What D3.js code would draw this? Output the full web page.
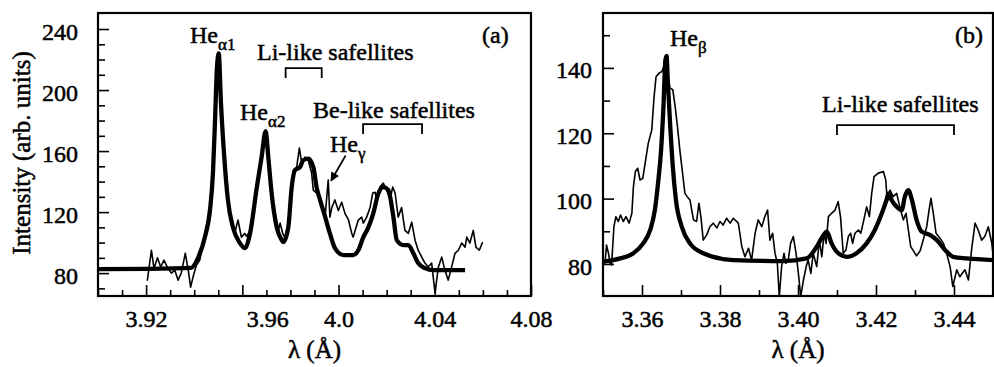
<!DOCTYPE html>
<html>
<head>
  <meta charset="utf-8">
  <title>He-like Ar spectra</title>
  <script src="https://d3js.org/d3.v7.min.js"></script>
  <style>
    body { margin: 0; background: #fff; }
    text { font-family: "Liberation Serif", "Times New Roman", serif; fill: #000; }
  </style>
</head>
<body>
<div id="chart"></div>

<script>
  // ---- panel (a): He-alpha region, [wavelength (A), intensity] ----
  const fitA = [
    [3.9000, 82.6], [3.9200, 82.8], [3.9387, 83.5], [3.9416, 90], [3.9445, 104],
    [3.9466, 122], [3.9478, 146], [3.9486, 178], [3.9495, 216], [3.9502, 224],
    [3.9511, 192], [3.9524, 158], [3.9540, 128], [3.9561, 110], [3.9590, 99.7],
    [3.9611, 96.4], [3.9632, 106], [3.9660, 136], [3.9680, 156], [3.9697, 173],
    [3.9708, 156], [3.9722, 132], [3.9743, 110], [3.9764, 101.6], [3.9770, 100.3],
    [3.9791, 110], [3.9805, 136], [3.9819, 147.5], [3.9840, 149.5], [3.9853, 154],
    [3.9874, 155], [3.9895, 149.5], [3.9909, 136], [3.9923, 128], [3.9944, 117],
    [3.9964, 106], [3.9985, 96.4], [4.0020, 91.8], [4.0061, 91.8], [4.0082, 95],
    [4.0103, 103.6], [4.0124, 110], [4.0144, 119], [4.0165, 132], [4.0186, 136.4],
    [4.0207, 134.4], [4.0228, 116.7], [4.0242, 101.6], [4.0269, 98.4], [4.0290, 98.4],
    [4.0311, 93], [4.0331, 86.6], [4.0359, 83.3], [4.0394, 82], [4.0526, 82]
  ];

  const measA = [
    [3.9205, 75], [3.9222, 95], [3.9233, 83], [3.9247, 90], [3.9261, 84],
    [3.9274, 88.5], [3.9291, 83], [3.9305, 80], [3.9319, 82], [3.9333, 75.4],
    [3.9346, 80], [3.9363, 93], [3.9377, 80], [3.9385, 70.8], [3.9395, 77.4],
    [3.9409, 85.2], [3.9423, 88.5], [3.9445, 106], [3.9466, 123], [3.9478, 147],
    [3.9486, 180], [3.9495, 218], [3.9502, 224], [3.9511, 196], [3.9524, 162],
    [3.9540, 132], [3.9554, 114.8], [3.9568, 106], [3.9582, 114.8], [3.9596, 103.6],
    [3.9610, 106], [3.9618, 104], [3.9632, 108], [3.9646, 123], [3.9666, 141],
    [3.9680, 158], [3.9697, 172], [3.9708, 158], [3.9722, 128], [3.9736, 119],
    [3.9750, 108], [3.9757, 112.8], [3.9768, 106], [3.9777, 103], [3.9791, 112],
    [3.9805, 138], [3.9812, 147.5], [3.9826, 149.5], [3.9837, 162], [3.9847, 152],
    [3.9861, 156], [3.9874, 154], [3.9888, 145.6], [3.9895, 134.4], [3.9909, 132.5],
    [3.9923, 130], [3.9934, 123], [3.9944, 116.7], [3.9957, 141], [3.9964, 116.7],
    [3.9972, 123], [3.9985, 128], [3.9999, 121], [4.0013, 126.5], [4.0027, 119],
    [4.0041, 115], [4.0055, 106], [4.0061, 103.6], [4.0073, 110], [4.0082, 114.8],
    [4.0096, 116.7], [4.0103, 112.8], [4.0117, 116.7], [4.0131, 123], [4.0142, 132.5],
    [4.0152, 133], [4.0159, 128], [4.0172, 136.4], [4.0186, 139], [4.0200, 134.4],
    [4.0214, 128], [4.0225, 136.4], [4.0235, 132.5], [4.0248, 116.7], [4.0262, 123],
    [4.0276, 108], [4.0290, 106], [4.0304, 113.4], [4.0318, 101.6], [4.0331, 95],
    [4.0346, 90.5], [4.0359, 86.6], [4.0373, 84], [4.0387, 86.6], [4.0401, 67],
    [4.0415, 84], [4.0429, 90.5], [4.0442, 82], [4.0456, 75.4], [4.0470, 84],
    [4.0484, 93], [4.0498, 95], [4.0512, 99.7], [4.0526, 97], [4.0533, 103.6],
    [4.0546, 99.7], [4.0560, 108], [4.0571, 97], [4.0585, 95], [4.0599, 100.3]
  ];

  // ---- panel (b): He-beta region ----
  const fitB = [
    [3.3500, 80.7], [3.3544, 81.7], [3.3578, 83.3], [3.3603, 86.3], [3.3621, 90.4],
    [3.3633, 96.5], [3.3642, 105.7], [3.3649, 114.9], [3.3655, 128.2], [3.3660, 142.4],
    [3.3663, 143.7], [3.3666, 136.3], [3.3672, 123], [3.3679, 109.8], [3.3687, 99.6],
    [3.3702, 91.4], [3.3723, 86.3], [3.3757, 83.3], [3.3834, 81.2], [3.3962, 80.9],
    [3.4022, 81.7], [3.4048, 85.3], [3.4063, 88.4], [3.4074, 89.9], [3.4086, 86.3],
    [3.4103, 83.3], [3.4125, 82.2], [3.4150, 83.3], [3.4176, 86.3], [3.4197, 90.4],
    [3.4215, 95.5], [3.4227, 99.6], [3.4232, 101.6], [3.4240, 99.6], [3.4253, 97.5],
    [3.4266, 96.5], [3.4274, 100.6], [3.4283, 102.6], [3.4292, 99.6], [3.4304, 93.5],
    [3.4317, 89.9], [3.4338, 88.9], [3.4356, 87.3], [3.4377, 84.3], [3.4398, 82.2],
    [3.4433, 81.7], [3.4500, 81.2]
  ];

  const measB = [
    [3.3505, 80.2], [3.3509, 85.8], [3.3514, 83.3], [3.3518, 80.2], [3.3522, 79.7],
    [3.3528, 91.4], [3.3533, 94.5], [3.3539, 93], [3.3545, 95], [3.3552, 93],
    [3.3559, 94.5], [3.3567, 92.5], [3.3574, 95.5], [3.3578, 103.7], [3.3583, 108.3],
    [3.3589, 109.3], [3.3595, 105.7], [3.3602, 106.2], [3.3608, 110.8], [3.3616, 116.9],
    [3.3625, 121], [3.3631, 131.2], [3.3636, 137.3], [3.3644, 138.4], [3.3651, 138.9],
    [3.3656, 140.4], [3.3662, 143], [3.3666, 137.3], [3.3672, 133.8], [3.3679, 133.3],
    [3.3685, 128.2], [3.3691, 122], [3.3697, 114.9], [3.3704, 107.8], [3.3710, 101.6],
    [3.3716, 100.6], [3.3723, 99.6], [3.3732, 93.5], [3.3740, 93], [3.3746, 98.6],
    [3.3751, 94.5], [3.3757, 87.3], [3.3766, 88.9], [3.3774, 91.4], [3.3783, 92.5],
    [3.3792, 91], [3.3800, 93], [3.3808, 91.9], [3.3817, 94], [3.3826, 92.5],
    [3.3834, 94], [3.3847, 92.5], [3.3856, 85.3], [3.3864, 82.2], [3.3873, 84.8],
    [3.3881, 81.2], [3.3890, 89.4], [3.3898, 93.5], [3.3907, 91.4], [3.3915, 94.5],
    [3.3922, 96.5], [3.3928, 87.3], [3.3935, 89.4], [3.3941, 83.3], [3.3947, 80.2],
    [3.3952, 70], [3.3958, 79.2], [3.3964, 83.3], [3.3969, 80.2], [3.3975, 81.2],
    [3.3981, 86.3], [3.3988, 88.4], [3.3995, 83.3], [3.4001, 77.1], [3.4007, 70],
    [3.4014, 75.1], [3.4021, 79.2], [3.4026, 81.2], [3.4033, 77.1], [3.4039, 83.3],
    [3.4048, 79.2], [3.4055, 87.3], [3.4061, 82.2], [3.4067, 89.4], [3.4072, 86.3],
    [3.4078, 94.5], [3.4086, 95.5], [3.4095, 96.5], [3.4103, 99.1], [3.4109, 94.5],
    [3.4116, 83.3], [3.4123, 84.3], [3.4129, 88.4], [3.4135, 89.4], [3.4140, 86.3],
    [3.4146, 89.4], [3.4155, 90.4], [3.4161, 89.4], [3.4167, 92.5], [3.4176, 97.5],
    [3.4183, 94.5], [3.4189, 101.6], [3.4195, 106.7], [3.4206, 107.8], [3.4219, 108.3],
    [3.4225, 105.7], [3.4229, 99], [3.4236, 102.6], [3.4244, 100.6], [3.4253, 101.6],
    [3.4261, 97.5], [3.4270, 93.5], [3.4277, 95.5], [3.4283, 90.4], [3.4289, 85.3],
    [3.4296, 84], [3.4304, 82.5], [3.4313, 84], [3.4321, 87.3], [3.4330, 91.4],
    [3.4336, 96.5], [3.4341, 100.1], [3.4347, 95.5], [3.4354, 89.4], [3.4364, 87.9],
    [3.4373, 86.3], [3.4381, 83.3], [3.4390, 79.2], [3.4397, 73.1], [3.4407, 78.2],
    [3.4415, 76.1], [3.4424, 77.6], [3.4428, 78.2], [3.4437, 75.1], [3.4445, 84.3],
    [3.4454, 92.5], [3.4462, 90.4], [3.4471, 87.3], [3.4479, 88.4], [3.4488, 91.4],
    [3.4497, 86.3], [3.4500, 83]
  ];

  // ---- ticks ----
  const xMajorA = [3.92, 3.96, 4.00, 4.04, 4.08];
  const xLabelsA = ['3.92', '3.96', '4.0', '4.04', '4.08'];
  const xMinorA = [3.90, 3.91, 3.93, 3.94, 3.95, 3.97, 3.98, 3.99, 4.01, 4.02, 4.03, 4.05, 4.06, 4.07];
  const yMajorA = [80, 120, 160, 200, 240];
  const yMinorA = [70, 90, 100, 110, 130, 140, 150, 170, 180, 190, 210, 220, 230];

  const xMajorB = [3.36, 3.38, 3.40, 3.42, 3.44];
  const xLabelsB = ['3.36', '3.38', '3.40', '3.42', '3.44'];
  const xMinorB = [3.35, 3.37, 3.39, 3.41, 3.43, 3.45];
  const yMajorB = [80, 100, 120, 140];
  const yMinorB = [90, 110, 130, 150];

  // ---- annotations (wavelength ranges, intensity level) ----
  const bracketsA = [
    {from: 3.978, to: 3.993, level: 214.4},
    {from: 4.0102, to: 4.0347, level: 177.7}
  ];
  const bracketsB = [
    {from: 3.41, to: 3.44, level: 122.5}
  ];
  const arrowHeGamma = {from: [4.0029, 157], to: [3.9969, 140.5]};

  // ---- drawing ----
  const W = 994, H = 367;
  const INK = 0.5;   // faux-bold stroke on text, the scan is heavy
  const svg = d3.select('#chart').append('svg')
      .attr('width', W).attr('height', H);
  const defs = svg.append('defs');

  defs.append('marker')
      .attr('id', 'arrow')
      .attr('viewBox', '0 0 10 10')
      .attr('refX', 9).attr('refY', 5)
      .attr('markerUnits', 'userSpaceOnUse')
      .attr('markerWidth', 11).attr('markerHeight', 9)
      .attr('orient', 'auto')
    .append('path')
      .attr('d', 'M0,0 L10,5 L0,10 z')
      .attr('fill', '#000');

  function panel(o) {
    const x = d3.scaleLinear().domain(o.xDomain).range([o.left, o.right]);
    const y = d3.scaleLinear().domain(o.yDomain).range([o.bottom, o.top]);
    const g = svg.append('g');

    defs.append('clipPath').attr('id', 'clip-' + o.name)
      .append('rect')
        .attr('x', o.left).attr('y', o.top)
        .attr('width', o.right - o.left).attr('height', o.bottom - o.top);

    const line = d3.line().x(d => x(d[0])).y(d => y(d[1]));

    // measured spectrum (thin)
    g.append('path')
      .datum(o.meas)
      .attr('clip-path', `url(#clip-${o.name})`)
      .attr('fill', 'none')
      .attr('stroke', '#000')
      .attr('stroke-width', 1.6)
      .attr('stroke-linejoin', 'round')
      .attr('d', line);

    // model (thick)
    g.append('path')
      .datum(o.fit)
      .attr('clip-path', `url(#clip-${o.name})`)
      .attr('fill', 'none')
      .attr('stroke', '#000')
      .attr('stroke-width', 4.3)
      .attr('stroke-linejoin', 'round')
      .attr('d', line.curve(d3.curveMonotoneX));

    // x axis: minor + labelled major ticks, pointing inward
    g.append('g')
      .attr('transform', `translate(0,${o.bottom})`)
      .call(d3.axisBottom(x).tickValues(o.xMinor).tickSize(-6).tickFormat(''));
    g.append('g')
      .attr('class', 'xmaj')
      .attr('transform', `translate(0,${o.bottom})`)
      .call(d3.axisBottom(x).tickValues(o.xMajor).tickSize(-11)
        .tickFormat(d => o.xLabels[o.xMajor.indexOf(d)]));

    // y axis
    g.append('g')
      .attr('transform', `translate(${o.left},0)`)
      .call(d3.axisLeft(y).tickValues(o.yMinor).tickSize(-7).tickFormat(''));
    g.append('g')
      .attr('class', 'ymaj')
      .attr('transform', `translate(${o.left},0)`)
      .call(d3.axisLeft(y).tickValues(o.yMajor).tickSize(-11).tickFormat(d3.format('d')));

    g.selectAll('.domain').remove();
    g.selectAll('.tick line').attr('stroke', '#000').attr('stroke-width', 1.6);

    g.selectAll('.xmaj text')
      .attr('y', 31).attr('dy', 0)
      .attr('dx', d => (o.xShift && o.xShift[d]) || 0)
      .attr('font-family', '"Liberation Serif", serif')
      .attr('font-size', 24)
      .attr('stroke', '#000').attr('stroke-width', INK);
    g.selectAll('.ymaj text')
      .attr('x', -o.yLabelGap).attr('dy', '0.42em')
      .attr('font-family', '"Liberation Serif", serif')
      .attr('font-size', 24)
      .attr('stroke', '#000').attr('stroke-width', INK);

    // frame
    g.append('rect')
      .attr('x', o.left).attr('y', o.top)
      .attr('width', o.right - o.left).attr('height', o.bottom - o.top)
      .attr('fill', 'none')
      .attr('stroke', '#000')
      .attr('stroke-width', 2.2);

    // brackets
    g.selectAll('path.bracket')
      .data(o.brackets)
      .enter()
      .append('path')
      .attr('class', 'bracket')
      .attr('fill', 'none')
      .attr('stroke', '#000')
      .attr('stroke-width', 1.8)
      .attr('d', b => `M${x(b.from)},${y(b.level) + 10}V${y(b.level)}H${x(b.to)}V${y(b.level) + 10}`);

    // x title
    g.append('text')
      .attr('x', (o.left + o.right) / 2)
      .attr('y', 358)
      .attr('text-anchor', 'middle')
      .attr('font-size', 25)
      .attr('stroke', '#000').attr('stroke-width', INK)
      .text('λ (Å)');

    return {x, y, g};
  }

  function label(px, py, main, sub) {
    const t = svg.append('text')
      .attr('x', px).attr('y', py)
      .attr('font-size', 24)
      .attr('stroke', '#000').attr('stroke-width', INK)
      .text(main);
    if (sub) {
      t.append('tspan')
        .attr('dy', 7)
        .attr('font-size', 17)
        .text(sub);
    }
    return t;
  }

  const pa = panel({
    name: 'a', left: 98, right: 531, top: 13, bottom: 296,
    xDomain: [3.90, 4.08], yDomain: [65, 250.5],
    fit: fitA, meas: measA,
    xMajor: xMajorA, xLabels: xLabelsA, xMinor: xMinorA,
    yMajor: yMajorA, yMinor: yMinorA, yLabelGap: 20,
    xShift: {3.96: 25},
    brackets: bracketsA
  });

  const pb = panel({
    name: 'b', left: 603, right: 993, top: 13, bottom: 296,
    xDomain: [3.35, 3.45], yDomain: [70.2, 156.8],
    fit: fitB, meas: measB,
    xMajor: xMajorB, xLabels: xLabelsB, xMinor: xMinorB,
    yMajor: yMajorB, yMinor: yMinorB, yLabelGap: 11,
    brackets: bracketsB
  });

  // arrow pointing at He-gamma
  pa.g.append('line')
    .attr('x1', pa.x(arrowHeGamma.from[0])).attr('y1', pa.y(arrowHeGamma.from[1]))
    .attr('x2', pa.x(arrowHeGamma.to[0])).attr('y2', pa.y(arrowHeGamma.to[1]))
    .attr('stroke', '#000')
    .attr('stroke-width', 1.8)
    .attr('marker-end', 'url(#arrow)');

  // y title
  svg.append('text')
    .attr('transform', 'translate(30,153) rotate(-90)')
    .attr('text-anchor', 'middle')
    .attr('font-size', 25)
    .attr('stroke', '#000').attr('stroke-width', INK)
    .text('Intensity (arb. units)');

  // line labels
  label(190, 43, 'He', 'α1');
  label(240, 120, 'He', 'α2');
  label(330, 152, 'He', 'γ');
  label(670, 46, 'He', 'β');
  label(257, 60, 'Li-like safellites');
  label(313, 118, 'Be-like safellites');
  label(822, 112, 'Li-like safellites');
  label(482, 43, '(a)');
  label(955, 43, '(b)');
</script>
</body>
</html>
